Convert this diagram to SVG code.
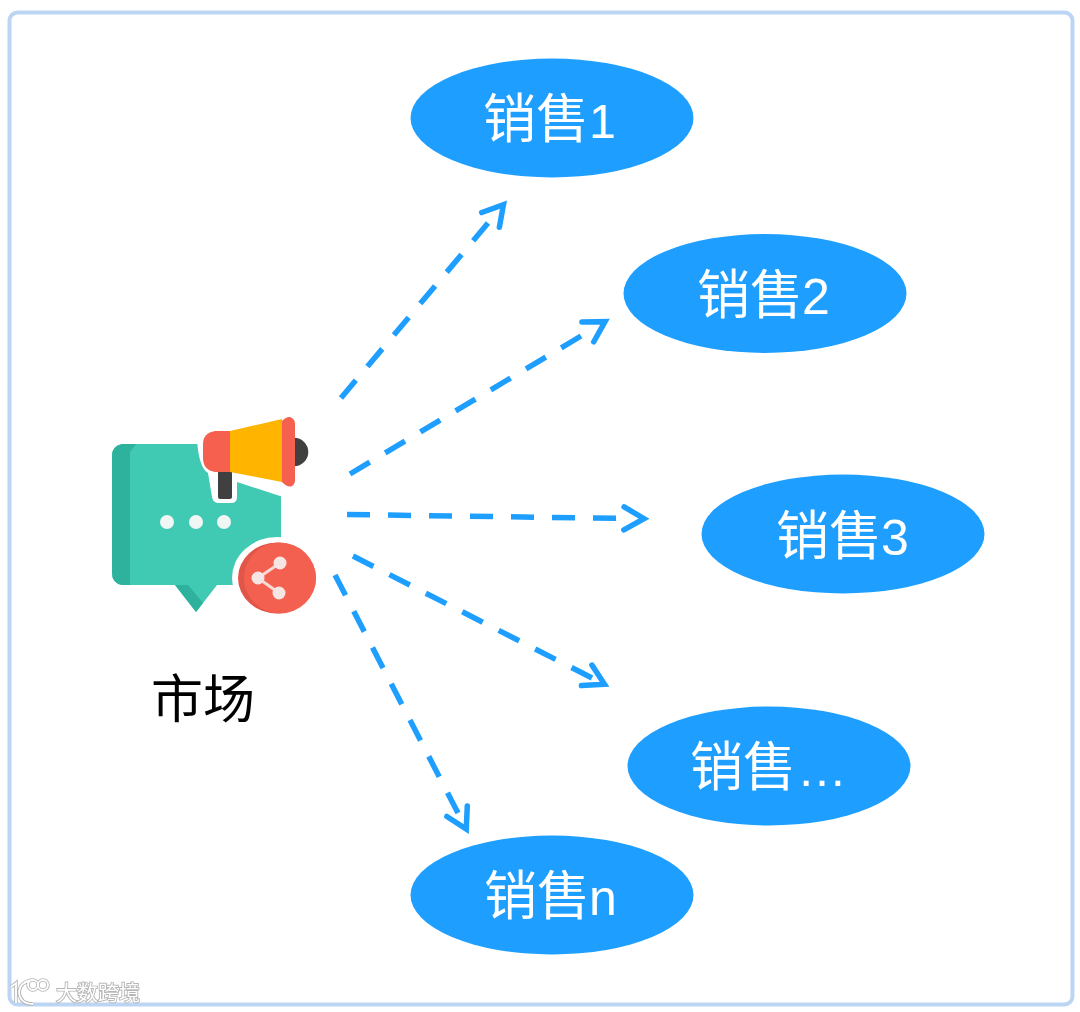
<svg xmlns="http://www.w3.org/2000/svg" width="1080" height="1012" viewBox="0 0 1080 1012">
<defs>
<style>
.oval{fill:#1e9fff}
.lbl{font-family:"Noto Sans CJK SC","Liberation Sans",sans-serif;font-size:53px;fill:#fff}
.lbl tspan{font-family:"Liberation Sans",sans-serif;font-size:50px}
.conn{fill:none;stroke:#1e9fff;stroke-width:5.500;stroke-dasharray:23 18}
.head{fill:none;stroke:#1e9fff;stroke-width:5.500;stroke-linecap:round;stroke-linejoin:miter}
</style>
<marker id="arrow18" markerUnits="userSpaceOnUse" markerWidth="60" markerHeight="40" viewBox="-10 -20 60 40" refX="0" refY="0" orient="auto"><path class="head" d="M-6,-11.5 L14,0 L-6,11.500"/></marker>
<marker id="arrow22" markerUnits="userSpaceOnUse" markerWidth="60" markerHeight="40" viewBox="-10 -20 60 40" refX="0" refY="0" orient="auto"><path class="head" d="M-2,-11.5 L18,0 L-2,11.500"/></marker>
<marker id="arrow28" markerUnits="userSpaceOnUse" markerWidth="60" markerHeight="40" viewBox="-10 -20 60 40" refX="0" refY="0" orient="auto"><path class="head" d="M4,-11.5 L24,0 L4,11.500"/></marker>
<marker id="arrow32" markerUnits="userSpaceOnUse" markerWidth="60" markerHeight="40" viewBox="-10 -20 60 40" refX="0" refY="0" orient="auto"><path class="head" d="M8,-11.5 L28,0 L8,11.500"/></marker>
<filter id="soft" x="-5%" y="-5%" width="110%" height="110%"><feGaussianBlur stdDeviation="0.7"/></filter>
</defs>
<rect width="1080" height="1012" fill="#fff"/>
<rect id="frame" x="9.500" y="12.500" width="1063" height="992" rx="8" fill="#fff" stroke="#bcd5f3" stroke-width="4"/>
<g id="connectors">
<path class="conn" pathLength="228" d="M341,398 L488,223" marker-end="url(#arrow28)"/>
<path class="conn" pathLength="269" d="M350,474 L581,336" marker-end="url(#arrow32)"/>
<path class="conn" pathLength="269" d="M347,514.500 L616,518.300" marker-end="url(#arrow32)"/>
<path class="conn" pathLength="269" d="M353,556 L592,678" marker-end="url(#arrow18)"/>
<path class="conn" pathLength="269" d="M335,575 L458,813" marker-end="url(#arrow22)"/>
</g>
<g id="node-market">
<g filter="url(#soft)">
<path d="M122,444 H281 V585 H217 L196,612 L175,585 H122 Q112,583 112,573 V456 Q112,446 122,444 Z" fill="#40c9b3"/>
<path d="M122,444 H136 L130,452 V585 H122 Q112,583 112,573 V456 Q112,446 122,444 Z" fill="#2db29e"/>
<path d="M175,585 H188 L203,603 L196,612 Z" fill="#2db29e"/>
<path d="M197,440 Q199,468 208,473 L212,497 Q213,503 219,503 H231 Q237,503 237,497 V482 L283,497 V430 H197 Z" fill="#fff"/>
<ellipse cx="277" cy="578" rx="45" ry="41" fill="#fff"/>
<ellipse cx="277" cy="578" rx="39" ry="35.500" fill="#e2574a"/>
<ellipse cx="280" cy="578" rx="36" ry="35.500" fill="#f4604f"/>
<path d="M280,563 L258,578 L279,593" fill="none" stroke="#f6d9d4" stroke-width="3"/>
<circle cx="280" cy="563" r="6.500" fill="#f6e6e3"/>
<circle cx="258" cy="578" r="6.500" fill="#f6e6e3"/>
<circle cx="279" cy="593" r="6.500" fill="#f6e6e3"/>
<circle cx="167" cy="522" r="7" fill="#f0f6f4"/>
<circle cx="196" cy="522" r="7" fill="#f0f6f4"/>
<circle cx="224" cy="522" r="7" fill="#f0f6f4"/>
<rect x="218" y="470" width="14" height="29" rx="2" fill="#414141"/>
<circle cx="294" cy="452" r="14.300" fill="#414141"/>
<path d="M230,431 L282,419 V482 L230,472 Z" fill="#ffb400"/>
<path d="M215,431 H230 V472 H215 Q203,470 203,458 V444 Q203,433 215,431 Z" fill="#f6604f"/>
<path d="M282,421 Q288,415 292,418 Q295,420 295,424 V480 Q295,484 292,486 Q288,488 282,482 Z" fill="#f6604f"/>
</g>
<text x="151" y="718" font-family="'Noto Sans CJK SC',sans-serif" font-size="52" fill="#000">市场</text>
</g>
<g id="node-sales-1"><ellipse class="oval" cx="552" cy="118" rx="141.500" ry="59.500"/><text class="lbl" x="483" y="138">销售<tspan style="font-size:48px">1</tspan></text></g>
<g id="node-sales-2"><ellipse class="oval" cx="765" cy="293.500" rx="141.500" ry="59.500"/><text class="lbl" x="697" y="314">销售<tspan dx="-1">2</tspan></text></g>
<g id="node-sales-3"><ellipse class="oval" cx="843" cy="534" rx="141.500" ry="59.500"/><text class="lbl" x="776" y="555">销售<tspan dx="-1">3</tspan></text></g>
<g id="node-sales-4"><ellipse class="oval" cx="769" cy="766" rx="141.500" ry="59.500"/><text class="lbl" x="690" y="786">销售<tspan dx="1">…</tspan></text></g>
<g id="node-sales-n"><ellipse class="oval" cx="552" cy="895" rx="141.500" ry="59.500"/><text class="lbl" x="484" y="915">销售<tspan dx="-1">n</tspan></text></g>
<g id="watermark" filter="url(#soft)">
<path d="M11,987 L16,983 V1003 M32,980 Q20,982 19,992 Q20,1004 33,1004 M28,985 A5,5 0 1,1 38,985 A5,5 0 1,1 28,985 M38,985 A5,5 0 1,1 48,985 A5,5 0 1,1 38,985" fill="none" stroke="#b5b5b5" stroke-width="3.500"/>
<path d="M11,987 L16,983 V1003 M32,980 Q20,982 19,992 Q20,1004 33,1004 M28,985 A5,5 0 1,1 38,985 A5,5 0 1,1 28,985 M38,985 A5,5 0 1,1 48,985 A5,5 0 1,1 38,985" fill="none" stroke="#fff" stroke-width="1.800"/>
<text x="56" y="1000" font-family="'Noto Sans CJK SC',sans-serif" font-size="21" fill="#fff" stroke="#b5b5b5" stroke-width="1.800" style="paint-order:stroke">大数跨境</text>
</g>
</svg>
